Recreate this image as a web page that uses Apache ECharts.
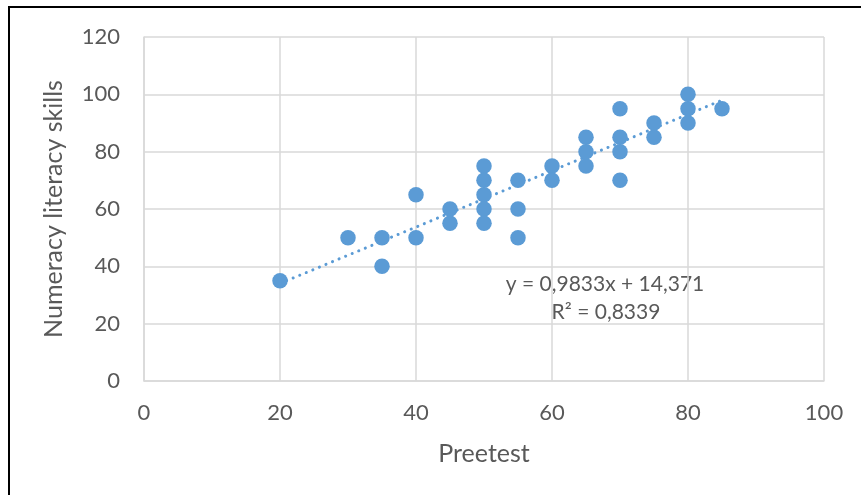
<!DOCTYPE html>
<html>
<head>
<meta charset="utf-8">
<script src="https://cdn.jsdelivr.net/npm/echarts@6/dist/echarts.min.js"></script>
<style>
html,body{margin:0;padding:0;background:#fff;}
#frame{position:absolute;left:8px;top:6px;width:853px;height:489px;border-left:2px solid #000;border-top:2px solid #000;box-sizing:border-box;}
#chart{position:absolute;left:0;top:0;width:861px;height:495px;}
</style>
</head>
<body>
<div id="frame"></div>
<div id="chart"></div>
<script>
// Preetest scores (x) and Numeracy literacy skills (y)
const preetest = [20, 30, 35, 35, 40, 40, 45, 45, 50, 50, 50, 50, 50, 55, 55, 55, 60, 60, 65, 65, 65, 70, 70, 70, 70, 75, 75, 80, 80, 80, 85];
const numeracy = [35, 50, 50, 40, 65, 50, 60, 55, 75, 70, 65, 60, 55, 70, 60, 50, 75, 70, 85, 80, 75, 95, 85, 80, 70, 90, 85, 100, 95, 90, 95];
// Linear trendline as printed on the chart
const trendSlope = 0.9833;
const trendIntercept = 14.371;
const trendRange = [20, 85];
const trendLabel = ['y = 0,9833x + 14,371', 'R² = 0,8339'];
const xTicks = {min: 0, max: 100, interval: 20};
const yTicks = {min: 0, max: 120, interval: 20};

const points = preetest.map((x, i) => [x, numeracy[i]]);
const trend = trendRange.map(x => [x, trendSlope * x + trendIntercept]);

const chart = echarts.init(document.getElementById('chart'), null, {renderer: 'canvas'});
const FONT = 'Lato';
const TXT = '#595959';
const GRID = '#d9d9d9';
chart.setOption({
  animation: false,
  grid: {left: 144, right: 37, top: 37, bottom: 114},
  xAxis: {
    type: 'value', min: xTicks.min, max: xTicks.max, interval: xTicks.interval,
    name: 'Preetest', nameLocation: 'middle', nameGap: 60,
    nameTextStyle: {color: TXT, fontFamily: FONT, fontSize: 25},
    axisLine: {show: true, lineStyle: {color: GRID, width: 1.5}},
    axisTick: {show: false},
    axisLabel: {color: TXT, fontFamily: FONT, fontSize: 22, margin: 21},
    splitLine: {show: true, lineStyle: {color: GRID, width: 1.5}}
  },
  yAxis: {
    type: 'value', min: yTicks.min, max: yTicks.max, interval: yTicks.interval,
    name: 'Numeracy literacy skills', nameLocation: 'middle', nameGap: 78, nameRotate: 90,
    nameTextStyle: {color: TXT, fontFamily: FONT, fontSize: 25},
    axisLine: {show: true, lineStyle: {color: GRID, width: 1.5}},
    axisTick: {show: false},
    axisLabel: {color: TXT, fontFamily: FONT, fontSize: 22, margin: 24},
    splitLine: {show: true, lineStyle: {color: GRID, width: 1.5}}
  },
  series: [
    {
      type: 'line', data: trend, symbol: 'none', silent: true, z: 3,
      lineStyle: {color: '#5b9bd5', width: 3, type: [0.1, 7], cap: 'round'}
    },
    {
      type: 'scatter', data: points, symbol: 'circle', symbolSize: 15.5, z: 4,
      itemStyle: {color: '#5b9bd5', opacity: 1}
    }
  ],
  graphic: [
    {type: 'text', x: 605, y: 284, style: {text: trendLabel[0], fill: TXT, font: '21px ' + FONT, textAlign: 'center', textVerticalAlign: 'middle'}},
    {type: 'text', x: 606, y: 312, style: {text: trendLabel[1], fill: TXT, font: '21px ' + FONT, textAlign: 'center', textVerticalAlign: 'middle'}}
  ]
});
</script>
</body>
</html>
